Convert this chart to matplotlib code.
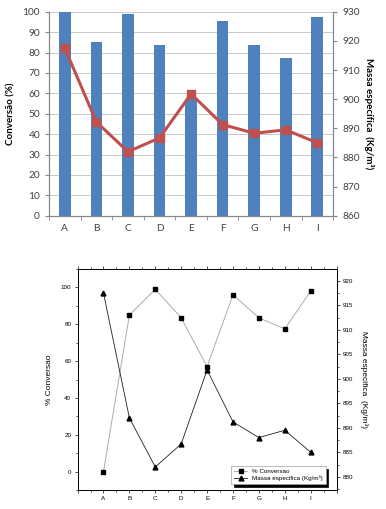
import numpy as np
from matplotlib import pyplot as plt
from matplotlib.ticker import MultipleLocator

categories = ['A', 'B', 'C', 'D', 'E', 'F', 'G', 'H', 'I']
conversao_bar = [100, 85.3, 99, 83.5, 57, 95.5, 83.5, 77.3, 97.5]
massa_top = [917.5, 892.2, 882, 886.7, 901.8, 891.3, 888.3, 889.5, 885]
conversao_line = [0, 85, 99, 83.5, 57, 96, 83.5, 77.5, 98]
massa_bottom = [917.5, 892, 882, 886.7, 901.8, 891.2, 888, 889.5, 885]

fig = plt.figure(figsize=(3.86, 5.09), dpi=100)
x = np.arange(len(categories))

# --- top chart (Excel style) ---
ax = fig.add_axes([0.127, 0.576, 0.736, 0.401])
ax2 = ax.twinx()
ax.bar(x, conversao_bar, width=0.37, color='#4F81BD', zorder=2)
ax.set_xlim(-0.5, 8.5)
ax.set_ylim(0, 100)
ax.set_yticks(np.arange(0, 101, 10))
ax.yaxis.grid(True, color='#BFBFBF', lw=0.6, zorder=0)
ax.set_axisbelow(True)
ax.set_xticks(x)
ax.set_xticklabels(categories)
ax.set_xticks(np.arange(-0.5, 9, 1), minor=True)
ax.tick_params(axis='x', which='major', length=0, pad=6)
ax.tick_params(axis='x', which='minor', length=3, color='#868686')
ax.tick_params(axis='y', length=3, color='#868686')
for a in (ax, ax2):
    a.tick_params(labelsize=7.3, labelcolor='#404040')
    for s in a.spines.values():
        s.set_color('#868686')
        s.set_linewidth(0.8)
    a.spines['top'].set_visible(False)
for lab in ax.get_yticklabels() + ax.get_xticklabels():
    lab.set_family('Lato')
ax2.plot(x, massa_top, color='#C0504D', lw=2.2, marker='s', ms=5.5,
         markerfacecolor='#C0504D', markeredgecolor='#C0504D', zorder=3)
ax2.set_ylim(860, 930)
ax2.set_yticks(np.arange(860, 931, 10))
ax2.tick_params(axis='y', length=3, color='#868686')
for lab in ax2.get_yticklabels():
    lab.set_family('Lato')
ax.set_ylabel('Conversão (%)', fontsize=7, fontweight='bold', family='Lato', labelpad=5)
ax2.set_ylabel('Massa específica  (Kg/m³)', fontsize=7, fontweight='bold',
               family='Lato', rotation=270, labelpad=10)

# --- bottom chart (Origin style) ---
bx = fig.add_axes([0.201, 0.0373, 0.671, 0.4342])
bx2 = bx.twinx()
l1, = bx.plot(x, conversao_line, color='#A0A0A0', lw=0.6, marker='s', ms=3,
              markerfacecolor='black', markeredgecolor='black', label='% Conversao')
l2, = bx2.plot(x, massa_bottom, color='#202020', lw=0.6, marker='^', ms=3.5,
               markerfacecolor='black', markeredgecolor='black',
               label='Massa especifica (Kg/m³)')
bx.set_xlim(-1, 9)
bx.set_ylim(-10, 110)
bx2.set_ylim(877.3, 922.4)
bx.set_xticks(np.arange(-1, 10))
bx.set_xticklabels([''] + categories + [''])
bx.xaxis.set_minor_locator(MultipleLocator(0.5))
bx.set_yticks(np.arange(0, 101, 20))
bx.yaxis.set_minor_locator(MultipleLocator(10))
bx2.set_yticks(np.arange(880, 921, 5))
bx2.yaxis.set_minor_locator(MultipleLocator(2.5))
bx.tick_params(which='major', length=2.5, width=0.5, labelsize=4.5, pad=2, top=True)
bx.tick_params(which='minor', length=1.5, width=0.5, top=True)
bx2.tick_params(which='major', length=2.5, width=0.5, labelsize=4.5, pad=2)
bx2.tick_params(which='minor', length=1.5, width=0.5)
for a in (bx, bx2):
    for s in a.spines.values():
        s.set_linewidth(0.6)
    for lab in a.get_xticklabels() + a.get_yticklabels():
        lab.set_family('Liberation Sans')
bx.set_ylabel('% Conversao', fontsize=6, family='Liberation Sans', labelpad=6)
bx2.set_ylabel('Massa especifica  (Kg/m³)', fontsize=6, family='Liberation Sans',
               rotation=270, labelpad=10)
leg = bx2.legend(handles=[l1, l2], loc='lower right', bbox_to_anchor=(0.97, 0.014),
                 frameon=True, fancybox=False,
                 shadow={'color': 'black', 'alpha': 1, 'ox': 2, 'oy': -2},
                 prop={'family': 'Liberation Sans', 'size': 4.5},
                 handlelength=2.2, borderpad=0.4, labelspacing=0.3)
leg.get_frame().set_edgecolor('#A0A0A0')
leg.get_frame().set_linewidth(0.5)

fig.savefig('out.png', dpi=100)
